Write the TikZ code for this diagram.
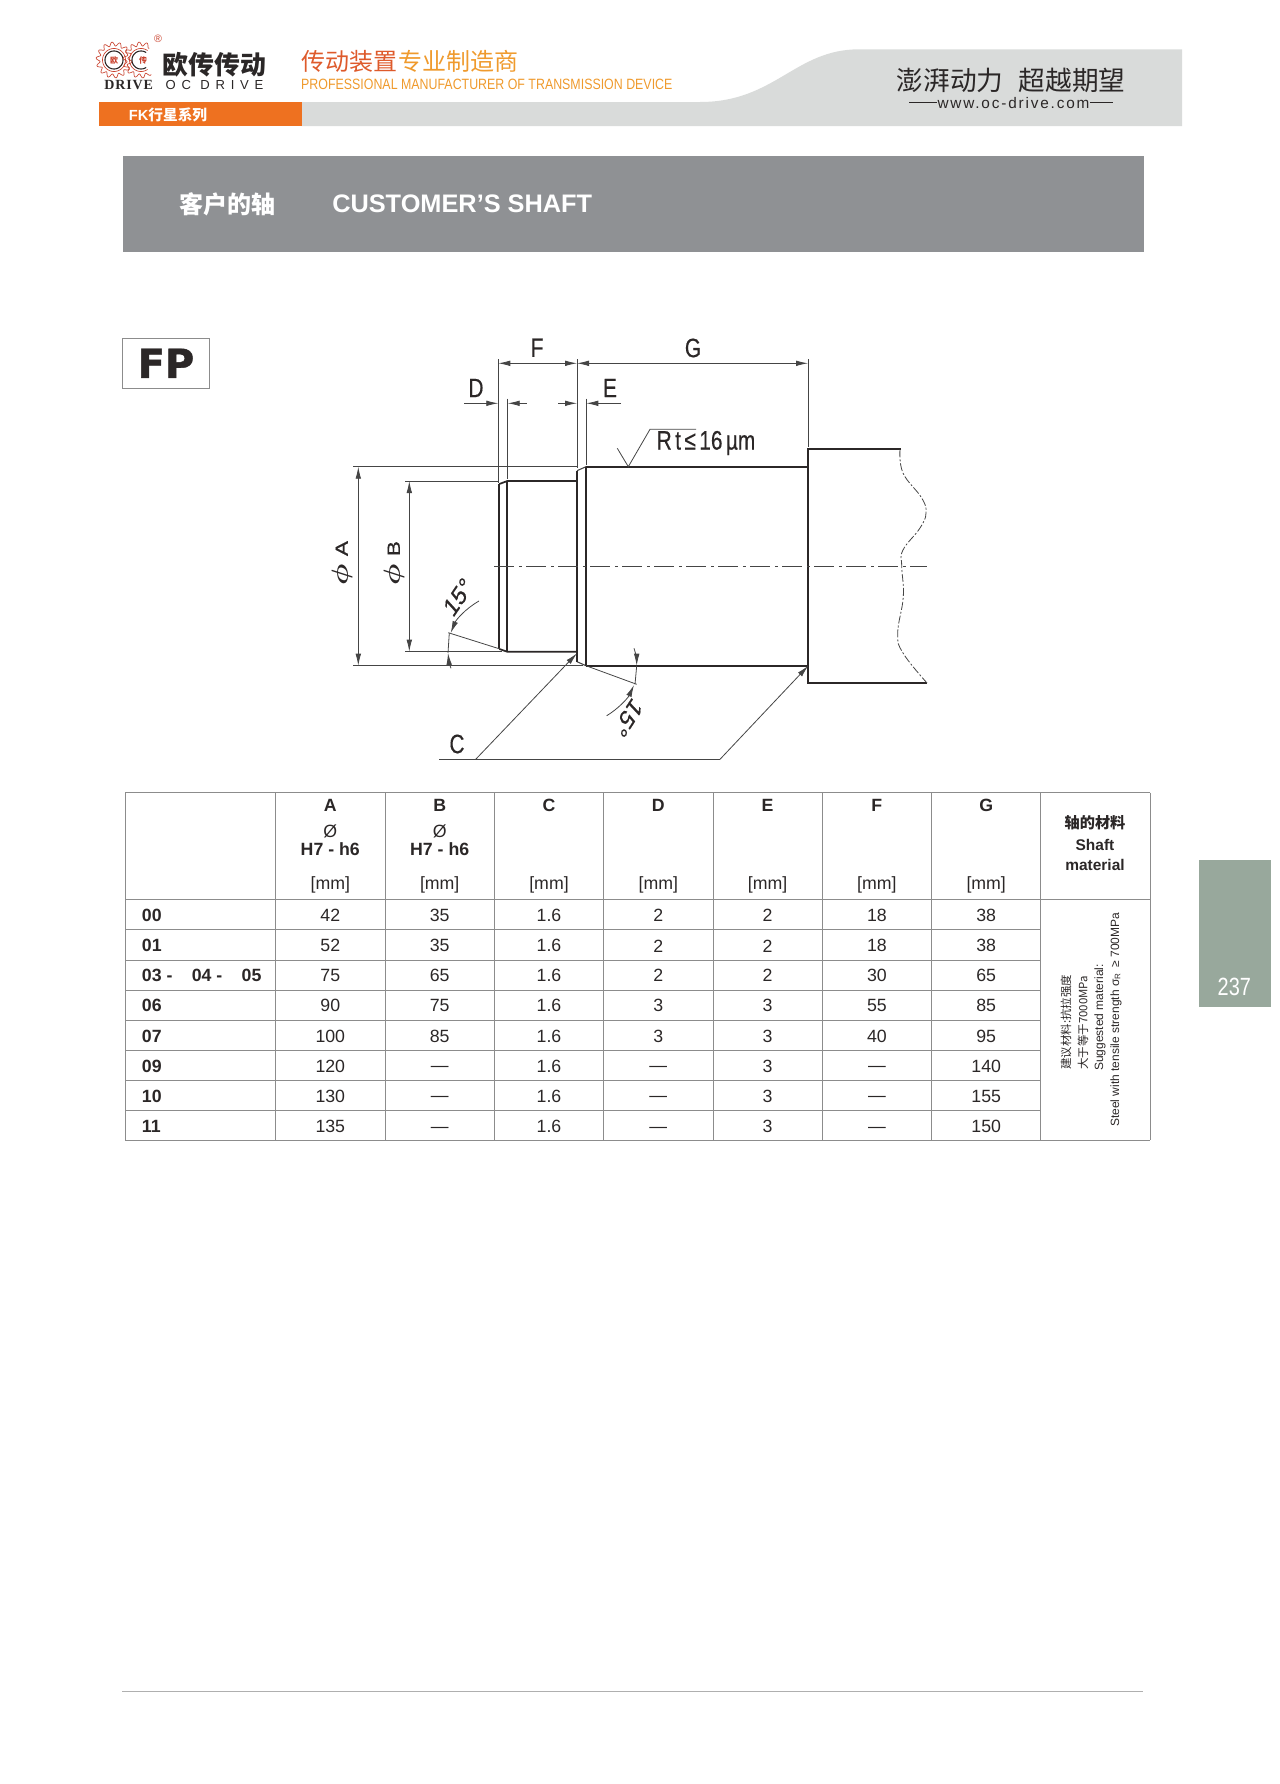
\documentclass[tikz,border=0pt]{standalone}
\usepackage{fontspec}
\usetikzlibrary{arrows.meta}
\setmainfont{Liberation Sans}
\newfontfamily\cjk{Noto Sans CJK SC}
\newfontfamily\serifbold{Liberation Serif}
\newfontfamily\heavy[FakeBold=1]{DejaVu Sans Bold}
\newfontfamily\dimfont[FakeBold=0.5]{Liberation Sans}
\newcommand{\fs}[1]{\fontsize{#1}{#1}\selectfont}
\newcommand{\nodim}{\raisebox{-4.3pt}[0pt][0pt]{---}}
\newcommand{\bigphi}{\scalebox{1.3}{\boldmath$\phi$}}
\definecolor{inkblack}{HTML}{2B2727}
\definecolor{dimgray}{HTML}{454545}
\definecolor{gridgray}{HTML}{8C8C8C}
\definecolor{orangebar}{HTML}{EE7120}
\definecolor{swoosh}{HTML}{D9DBDA}
\definecolor{titlegray}{HTML}{8F9194}
\definecolor{tabgreen}{HTML}{98A89C}
\definecolor{logored}{HTML}{C9432F}
\definecolor{headred}{HTML}{DE5A2B}
\definecolor{headorange}{HTML}{EF9A2D}
\tikzset{
	thinline/.style={line width=.6pt,color=dimgray},
	shaftline/.style={line width=1.3pt,color=inkblack},
	dimtip/.tip={Latex[length=9pt,width=4.2pt]},
	dimarrow/.style={thinline,-dimtip},
	dimboth/.style={thinline,dimtip-dimtip},
	dimlabel/.style={font=\dimfont\fs{20},xscale=.78,inner sep=0pt,text=inkblack},
	gridline/.style={line width=.6pt,color=gridgray},
	cell/.style={font=\fs{13.3},inner sep=0pt,text=inkblack},
	headcell/.style={font=\fs{13.3}\bfseries,inner sep=0pt,text=inkblack},
	rowlabel/.style={headcell,anchor=west},
	sidetext/.style={rotate=90,anchor=west,inner sep=0pt,text=inkblack},
}
\begin{document}
\begin{tikzpicture}[x=.75pt,y=-.75pt]
	\useasboundingbox (0,0) rectangle (1280,1784);

	%header bands
	\fill[swoosh] (301.7,102) -- (700,102) .. controls (775,102) and (795,49.3) .. (859,49.3) -- (1182,49.3) -- (1182,126) -- (301.7,126) -- cycle;
	\fill[orangebar] (98.6,102) rectangle (301.7,126);
	\fill[titlegray] (123,155.7) rectangle (1144,251.7);
	\fill[tabgreen] (1199,860) rectangle (1271,1006.7);
	\draw[line width=.7pt,color=gridgray!70] (122,1691) -- (1143,1691);

	%logo
	\foreach \cx/\from/\to in {114/0/360,141/55/305}{
		\draw[logored,line width=.5pt,shift={(\cx,60)}] plot[domain=\from:\to,samples=180] (\x:{16+2*sin(14*\x)});
		\draw[logored,line width=.5pt,shift={(\cx,60)}] plot[domain=\from:\to,samples=60] (\x:11.5);
		\draw[inkblack,line width=.8pt,shift={(\cx,60)}] plot[domain=\from:\to,samples=60] (\x:9);
	}
	\node[text=logored,font=\cjk\fs{6}\bfseries,inner sep=0pt] (logoou) at (114,60) {欧};
	\node[text=logored,font=\cjk\fs{6}\bfseries,inner sep=0pt] (logochuan) at (143,60) {传};
	\node[text=logored,font=\fs{8},inner sep=0pt] (logoreg) at (158,39) {®};
	\node[text=inkblack,font=\cjk\fs{19.4}\bfseries,inner sep=0pt] (logocn) at (214.5,65) {欧传传动};
	\node[text=inkblack,font=\serifbold\fs{10.5}\bfseries,inner sep=0pt] (logodrive) at (128.7,85) {\addfontfeature{LetterSpace=6}DRIVE};
	\node[text=inkblack,font=\fs{9.8},inner sep=0pt] (logooc) at (214.5,85) {\addfontfeature{LetterSpace=44}OC DRIVE};

	%header texts
	\node[anchor=west,font=\cjk\fs{18},inner sep=0pt] (headcn) at (301,61) {\textcolor{headred}{传动装置}\hspace{1pt}\textcolor{headorange}{专业制造商}};
	\node[anchor=west,font=\fs{11.2},text=headorange,inner sep=0pt,xscale=.83] (headen) at (301,84) {PROFESSIONAL MANUFACTURER OF TRANSMISSION DEVICE};
	\node[font=\cjk\fs{11},text=white,inner sep=0pt] (series) at (168,115) {\fontspec{Liberation Sans Bold}FK\cjk\bfseries 行星系列};
	\node[font=\cjk\fs{20},text=inkblack,inner sep=0pt] (slogana) at (950,80) {澎湃动力};
	\node[font=\cjk\fs{20},text=inkblack,inner sep=0pt] (sloganb) at (1072,80) {超越期望};
	\node[font=\fs{11.5},text=inkblack,inner sep=0pt] (website) at (1013.5,102.7) {\addfontfeature{LetterSpace=12}www.oc-drive.com};
	\coordinate (WL) at (909,102.7);
	\coordinate (WR) at (1113,102.7);
	\draw[line width=.7pt,color=inkblack] (WL) -- (website.west);
	\draw[line width=.7pt,color=inkblack] (website.east) -- (WR);

	%title
	\node[font=\cjk\fs{18}\bfseries,text=white,inner sep=0pt] (titlecn) at (227.6,204) {客户的轴};
	\node[anchor=west,font=\fs{19}\bfseries,text=white,inner sep=0pt] (titleen) at (332,204) {CUSTOMER’S SHAFT};

	%FP box
	\node[draw=gridgray,line width=.7pt,minimum width=65pt,minimum height=37.5pt,inner sep=0pt,font=\heavy\fs{30},text=inkblack] (fpbox) at (166,363.3) {FP};

	%tab
	\node[font=\fs{18.7},text=white,inner sep=0pt,xscale=.8] (pagenum) at (1234.3,987.3) {237};

	%coordinates
	\coordinate (FL) at (498.3,363.3);
	\coordinate (FR) at (577,363.3);
	\coordinate (GR) at (808,363.3);
	\coordinate (AT) at (358.3,466.7);
	\coordinate (AB) at (358.3,665.7);
	\coordinate (BT) at (409.3,481);
	\coordinate (BB) at (409.3,651.7);

	%extension lines
	\draw[thinline] (498.3,359) -- (498.3,483);
	\draw[thinline] (577,359) -- (577,468);
	\draw[thinline] (808,359) -- (808,446.7);
	\draw[thinline] (507.7,398.7) -- (507.7,479);
	\draw[thinline] (586.3,398.7) -- (586.3,465);
	\draw[thinline] (353.3,466.7) -- (577,466.7);
	\draw[thinline] (353.3,665.7) -- (583,665.7);
	\draw[thinline] (405,481) -- (499,481);
	\draw[thinline] (405,651.7) -- (501.7,651.7);

	%dimensions
	\draw[dimboth] (FL) -- (FR);
	\draw[dimboth] (FR) -- (GR);
	\draw[dimboth] (AT) -- (AB);
	\draw[dimboth] (BT) -- (BB);
	\draw[dimarrow] (464,403.3) -- (498.3,403.3);
	\draw[dimarrow] (526.7,403.3) -- (507.7,403.3);
	\draw[dimarrow] (558.3,403.3) -- (577,403.3);
	\draw[dimarrow] (621,403.3) -- (586.3,403.3);

	%shaft
	\draw[shaftline] (499.3,484) -- (507.3,481) -- (577,481);
	\draw[shaftline] (499.3,649) -- (507.3,651.7) -- (577,651.7);
	\draw[thinline,line width=.8pt] (577,470.7) -- (586,466.7);
	\draw[thinline,line width=.8pt] (577,661.7) -- (586,665.7);
	\draw[shaftline] (586,466.7) -- (808.3,466.7);
	\draw[shaftline] (586,665.7) -- (808.3,665.7);
	\draw[shaftline] (499.3,484) -- (499.3,649);
	\draw[shaftline] (507.3,481) -- (507.3,651.7);
	\draw[line width=.9pt,color=inkblack] (577,470.7) -- (577,661.7);
	\draw[shaftline] (586,466.7) -- (586,665.7);
	\draw[shaftline] (901,449.3) -- (808.3,449.3) -- (808.3,683.3) -- (927.3,683.3);
	\draw[thinline,dash pattern=on 15pt off 3.5pt on 2pt off 3.5pt] (494.3,566.7) -- (926.7,566.7);
	\draw[thinline,dash pattern=on 6pt off 1.5pt on 1.5pt off 1.5pt] plot[smooth,tension=.7] coordinates {(900,449.3) (903,473) (921.7,498) (926,513) (920,528) (903,550) (901.7,566) (903.3,596.7) (897.7,633) (903,653) (927,683)};

	%roughness
	\draw[thinline] (617.3,448.3) -- (628.3,466.7) -- (650,429.3) -- (696,429.3);
	\node[dimlabel] (rough) at (706,443) {R\,t\,≤\,16\,µm};

	%chamfer angles
	\draw[thinline] (448.3,632.7) -- (500,649);
	\draw[dimarrow] (479,601) .. controls (465,609) and (456,620) .. (450.7,633);
	\draw[dimarrow] (451,668.3) .. controls (449,664) and (448.5,658) .. (448,653);
	\draw[thinline] (448,653) -- (449.3,633);
	\draw[thinline] (586,665.7) -- (636.7,684.3);
	\draw[dimarrow] (634,648.3) .. controls (636,654) and (636.7,660) .. (636.7,665.7);
	\draw[thinline] (636.7,665.7) -- (635,684.3);
	\draw[dimarrow] (606.7,715.7) .. controls (618,709) and (628,698) .. (634,685);

	%leader
	\coordinate (CL) at (439.3,759.3);
	\coordinate (CR) at (720,759.3);
	\coordinate (CA) at (475.7,759.3);
	\draw[thinline] (CL) -- (CR);
	\draw[dimarrow] (CA) -- (577,653.3);
	\draw[dimarrow] (CR) -- (808.3,665.7);

	%drawing labels
	\node[dimlabel] (labelF) at (537,347.7) {F};
	\node[dimlabel] (labelG) at (693,348) {G};
	\node[dimlabel] (labelD) at (476,388) {D};
	\node[dimlabel] (labelE) at (610,388) {E};
	\node[dimlabel] (labelC) at (457,744) {C};
	\node[dimlabel,rotate=90,xscale=1,font=\dimfont\fs{17}] (labelA) at (342,563) {\bigphi\,\,A};
	\node[dimlabel,rotate=90,xscale=1,font=\dimfont\fs{17}] (labelB) at (394,563) {\bigphi\,\,B};
	\node[dimlabel,rotate=49] (angleL) at (458,597) {15°};
	\node[dimlabel,rotate=-130] (angleR) at (628,718) {15°};

	%table
	\foreach \y in {792.7,899.7}
		\draw[gridline] (125.3,\y) -- (1150.3,\y);
	\draw[gridline] (125.3,1140.3) -- (1150.3,1140.3);
	\foreach \y in {929.7,960,990,1020,1050.3,1080.3,1110.3}
		\draw[gridline] (125.3,\y) -- (1040.8,\y);
	\foreach \x in {125.3,275.7,385,494.3,603.6,712.9,822.2,931.5,1040.8,1150.3}
		\draw[gridline] (\x,792.7) -- (\x,1140.3);

	%column heads
	\foreach \x/\h in {330.3/A,439.7/B,549/C,658.3/D,767.6/E,876.9/F,986.2/G}{
		\node[headcell] (head\h) at (\x,805) {\h};
		\node[cell] (unit\h) at (\x,885) {[mm]};
	}
	\foreach \x/\h in {330.3/A,439.7/B}{
		\node[cell] (dia\h) at (\x,831.7) {Ø};
		\node[headcell] (fit\h) at (\x,849) {H7 - h6};
	}
	\node[headcell,font=\cjk\fs{11.4}\bfseries] (matcn) at (1095,822.3) {轴的材料};
	\node[headcell,font=\fs{11.6}\bfseries] (matshaft) at (1095,845) {Shaft};
	\node[headcell,font=\fs{11.6}\bfseries] (matmat) at (1095,865) {material};

	%rows
	\foreach \y/\lab/\a/\b/\d/\e/\f/\g [count=\n] in {
		915.7/00/42/35/2/2/18/38,
		945.8/01/52/35/2/2/18/38,
		975.6/03 -\hspace{14.5pt}04 -\hspace{14.5pt}05/75/65/2/2/30/65,
		1005.6/06/90/75/3/3/55/85,
		1036/07/100/85/3/3/40/95,
		1066/09/120/\nodim/\nodim/3/\nodim/140,
		1096/10/130/\nodim/\nodim/3/\nodim/155,
		1126.3/11/135/\nodim/\nodim/3/\nodim/150}{
		\node[rowlabel] (row\n) at (141.7,\y) {\lab};
		\node[cell] (a\n) at (330.3,\y) {\a};
		\node[cell] (b\n) at (439.7,\y) {\b};
		\node[cell] (c\n) at (549,\y) {1.6};
		\node[cell] (d\n) at (658.3,\y) {\d};
		\node[cell] (e\n) at (767.6,\y) {\e};
		\node[cell] (f\n) at (876.9,\y) {\f};
		\node[cell] (g\n) at (986.2,\y) {\g};
	}

	%material text
	\node[sidetext,font=\cjk\fs{8.6}] (suggcn) at (1066,1070) {建议材料:抗拉强度};
	\node[sidetext,font=\cjk\fs{8.6}] (tensilecn) at (1083,1070) {大于等于7000MPa};
	\node[sidetext,font=\fs{9}] (suggen) at (1100,1071) {Suggested material:};
	\node[sidetext,font=\fs{9}] (tensileen) at (1116,1127) {Steel with tensile strength σ\textsubscript{R} \,≥ 700MPa};
\end{tikzpicture}
\end{document}
